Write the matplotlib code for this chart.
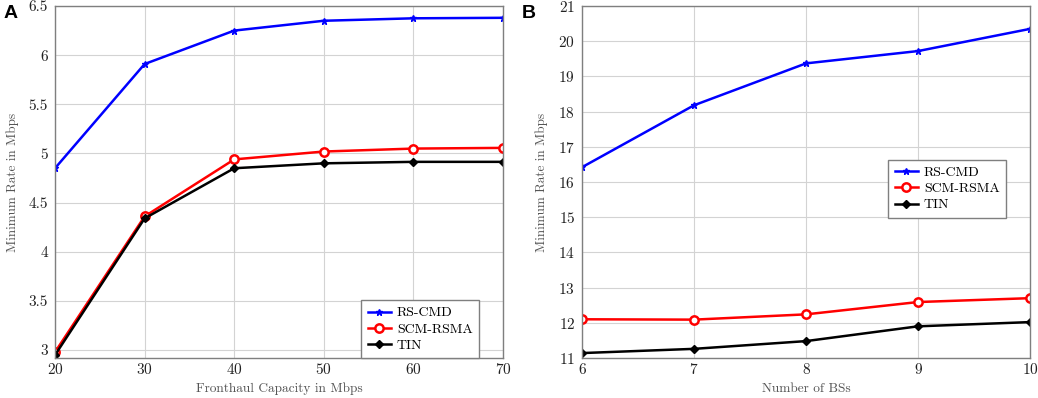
import matplotlib
matplotlib.use("Agg")
import matplotlib.pyplot as plt

# Panel A data
fronthaul = [20, 30, 40, 50, 60, 70]
a_rs_cmd = [4.85, 5.91, 6.25, 6.35, 6.375, 6.38]
a_scm_rsma = [2.98, 4.36, 4.94, 5.02, 5.05, 5.057]
a_tin = [2.95, 4.34, 4.85, 4.90, 4.915, 4.915]

# Panel B data
num_bs = [6, 7, 8, 9, 10]
b_rs_cmd = [16.42, 18.18, 19.37, 19.72, 20.35]
b_scm_rsma = [12.10, 12.09, 12.24, 12.59, 12.70]
b_tin = [11.14, 11.26, 11.48, 11.90, 12.02]

series_names = ["RS-CMD", "SCM-RSMA", "TIN"]

plt.rcParams['font.family'] = ['cmr10', 'DejaVu Serif']
plt.rcParams['axes.formatter.use_mathtext'] = True
plt.rcParams['mathtext.fontset'] = 'cm'

fig = plt.figure(figsize=(10.38, 3.98), dpi=100)
axA = fig.add_axes([0.053, 0.1005, 0.4316, 0.8844])
axB = fig.add_axes([0.5607, 0.1005, 0.4316, 0.8844])


def draw(ax, x, ys):
    rs, scm, tin = ys
    ax.plot(x, rs, color='#0000ff', lw=1.8, marker='*', ms=5, label=series_names[0])
    ax.plot(x, scm, color='#ff0000', lw=1.8, marker='o', ms=6, mfc='white', mew=1.8,
            label=series_names[1])
    ax.plot(x, tin, color='black', lw=1.8, marker='D', ms=4.5, label=series_names[2])
    ax.grid(True, color='#d3d3d3', lw=0.8)
    ax.set_axisbelow(True)
    for s in ax.spines.values():
        s.set_color('#7f7f7f')
        s.set_linewidth(1.0)
    ax.tick_params(length=0, labelsize=11, colors='#222222')
    ax.tick_params(axis='y', pad=5)
    ax.tick_params(axis='x', pad=3)
    ax.set_ylabel("Minimum Rate in Mbps", fontsize=9.5, color='#555555', labelpad=7)


def legend(ax, loc, anchor):
    leg = ax.legend(loc=loc, bbox_to_anchor=anchor, borderaxespad=0, fontsize=10,
                    frameon=True, fancybox=False, edgecolor='#7f7f7f', handlelength=1.65,
                    borderpad=0.45, labelspacing=0.25, handletextpad=0.45, framealpha=1)
    leg.get_frame().set_linewidth(1.0)
    return leg


draw(axA, fronthaul, [a_rs_cmd, a_scm_rsma, a_tin])
axA.set_xlim(20, 70)
axA.set_ylim(2.92, 6.5)
axA.set_xticks([20, 30, 40, 50, 60, 70])
axA.set_yticks([3, 3.5, 4, 4.5, 5, 5.5, 6, 6.5])
axA.set_yticklabels(["3", "3.5", "4", "4.5", "5", "5.5", "6", "6.5"])
axA.set_xlabel("Fronthaul Capacity in Mbps", fontsize=9.6, color='#555555', labelpad=4)
legend(axA, 'lower right', (0.946, 0.0))

draw(axB, num_bs, [b_rs_cmd, b_scm_rsma, b_tin])
axB.set_xlim(6, 10)
axB.set_ylim(11, 21)
axB.set_xticks([6, 7, 8, 9, 10])
axB.set_yticks(range(11, 22))
axB.set_xlabel("Number of BSs", fontsize=9.6, color='#555555', labelpad=4)
legend(axB, 'upper right', (0.946, 0.5625))

fig.text(0.003, 0.967, "A", fontsize=14, fontweight='bold', family='Liberation Sans',
         va='center', ha='left')
fig.text(0.503, 0.967, "B", fontsize=14, fontweight='bold', family='Liberation Sans',
         va='center', ha='left')

fig.savefig("out.png", dpi=100)
